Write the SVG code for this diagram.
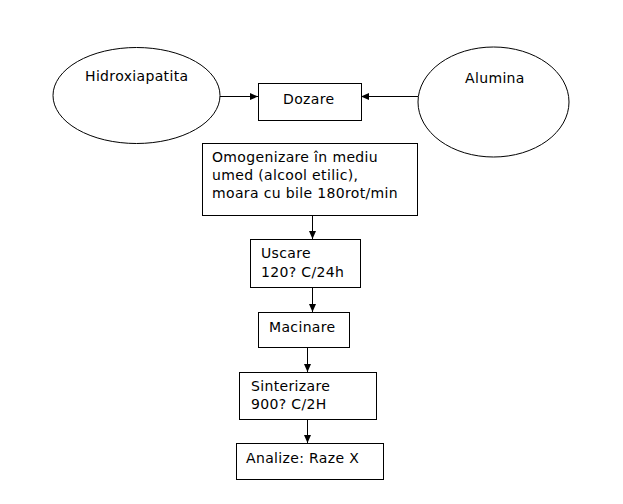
<svg xmlns="http://www.w3.org/2000/svg" width="623" height="504" viewBox="0 0 623 504">
<defs>
<marker id="ah" markerWidth="8" markerHeight="8" refX="8" refY="4" orient="auto" markerUnits="userSpaceOnUse">
<path d="M0,0.5 L8,4 L0,7.5 Z" fill="#000"/>
</marker>
</defs>
<style>
.s{fill:#fff;stroke:#000;stroke-width:1}
.t{font-family:"DejaVu Sans",Verdana,sans-serif;font-size:14px;letter-spacing:0.35px;fill:#000}
.c{stroke:#000;stroke-width:1;fill:none;marker-end:url(#ah)}
</style>
<rect width="623" height="504" fill="#fff"/>
<g id="connectors">
<line class="c" x1="220" y1="96.5" x2="258" y2="96.5"/>
<line class="c" x1="418" y1="96.5" x2="361" y2="96.5"/>
<line class="c" x1="312.5" y1="216" x2="312.5" y2="239"/>
<line class="c" x1="312.5" y1="288" x2="312.5" y2="312"/>
<line class="c" x1="307.5" y1="347" x2="307.5" y2="372"/>
<line class="c" x1="307.5" y1="420" x2="307.5" y2="443"/>
</g>
<g id="hidroxiapatita">
<ellipse class="s" cx="136.5" cy="95.5" rx="83.5" ry="48"/>
<text class="t" x="85" y="81">Hidroxiapatita</text>
</g>
<g id="alumina">
<ellipse class="s" cx="493.5" cy="102" rx="75.5" ry="55"/>
<text class="t" x="465" y="83">Alumina</text>
</g>
<g id="dozare">
<rect class="s" x="258.5" y="83.5" width="103" height="37"/>
<text class="t" x="283" y="104">Dozare</text>
</g>
<g id="omogenizare">
<rect class="s" x="202.5" y="143.5" width="215" height="72"/>
<text class="t" x="212" y="162">Omogenizare în mediu</text>
<text class="t" x="212" y="180">umed (alcool etilic),</text>
<text class="t" x="212" y="198">moara cu bile 180rot/min</text>
</g>
<g id="uscare">
<rect class="s" x="250.5" y="239.5" width="110" height="48"/>
<text class="t" x="261" y="258">Uscare</text>
<text class="t" x="261" y="277">120? C/24h</text>
</g>
<g id="macinare">
<rect class="s" x="258.5" y="312.5" width="91" height="35"/>
<text class="t" x="269" y="332">Macinare</text>
</g>
<g id="sinterizare">
<rect class="s" x="239.5" y="372.5" width="137" height="47"/>
<text class="t" x="251" y="391">Sinterizare</text>
<text class="t" x="251" y="409">900? C/2H</text>
</g>
<g id="analize">
<rect class="s" x="236.5" y="443.5" width="147" height="36"/>
<text class="t" x="246" y="463">Analize: Raze X</text>
</g>
</svg>
